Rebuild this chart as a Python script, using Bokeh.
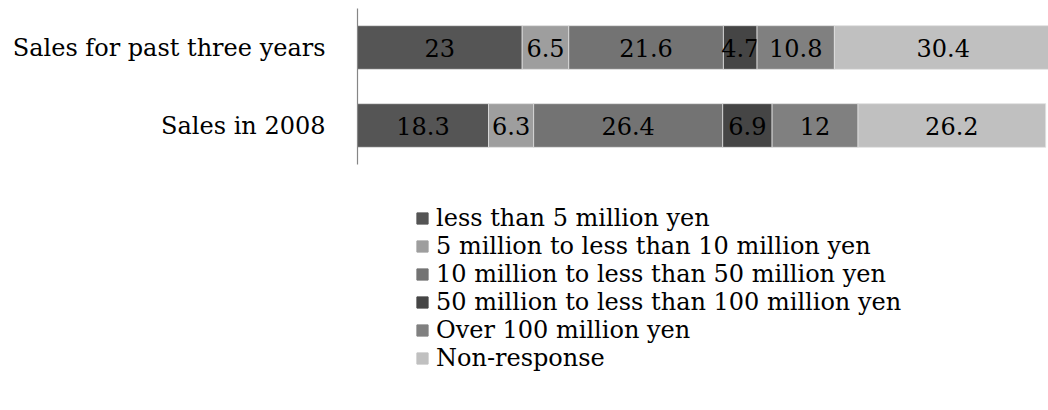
from bokeh.plotting import figure
from bokeh.layouts import column
from bokeh.models import Range1d, FactorRange, Legend, LegendItem, ColumnDataSource
from bokeh.core.properties import value
from bokeh.embed import file_html
from bokeh.resources import INLINE

categories = ["Sales in 2008", "Sales for past three years"]
series_names = [
    "less than 5 million yen",
    "5 million to less than 10 million yen",
    "10 million to less than 50 million yen",
    "50 million to less than 100 million yen",
    "Over 100 million yen",
    "Non-response",
]
less_5m = [18.3, 23.0]
m5_10 = [6.3, 6.5]
m10_50 = [26.4, 21.6]
m50_100 = [6.9, 4.7]
over_100m = [12.0, 10.8]
non_response = [26.2, 30.4]
value_labels = [
    ["18.3", "23"], ["6.3", "6.5"], ["26.4", "21.6"],
    ["6.9", "4.7"], ["12", "10.8"], ["26.2", "30.4"],
]
colors = ["#555555", "#9e9e9e", "#737373", "#454545", "#808080", "#c0c0c0"]

series = [less_5m, m5_10, m10_50, m50_100, over_100m, non_response]
FONT = "DejaVu Serif"
FS = "24px"

p = figure(
    width=1048, height=172,
    y_range=FactorRange(*categories, range_padding=0),
    x_range=Range1d(0, 96.5),
    output_backend="svg", toolbar_location=None,
    min_border_left=357, min_border_right=0, min_border_top=8,
    min_border_bottom=8,
)
p.outline_line_color = None
p.xgrid.visible = False
p.ygrid.visible = False
p.xaxis.visible = False

ax = p.yaxis[0]
ax.axis_line_color = "#868686"
ax.axis_line_width = 1.2
ax.major_tick_line_color = None
ax.minor_tick_line_color = None
ax.major_label_text_font = FONT
ax.major_label_text_font_size = FS
ax.major_label_text_color = "black"
ax.major_label_standoff = 26

left = [0.0, 0.0]
for i, vals in enumerate(series):
    right = [l + v for l, v in zip(left, vals)]
    src = ColumnDataSource(dict(
        y=categories, left=left, right=right,
        xc=[(l + r) / 2 for l, r in zip(left, right)],
        lab=value_labels[i],
    ))
    p.hbar(y="y", left="left", right="right", height=0.56, source=src,
           fill_color=colors[i], line_color="#e0e0e0", line_width=0.8)
    p.text(x="xc", y="y", text="lab", source=src,
           text_font=value(FONT), text_font_size=FS, text_color="black",
           text_align="center", text_baseline="middle")
    left = right

# legend panel (frame aligned with the chart frame by the column layout)
q = figure(
    width=1048, height=238, x_range=Range1d(0, 1), y_range=Range1d(0, 1),
    output_backend="svg", toolbar_location=None,
    min_border_left=357, min_border_right=0, min_border_top=0, min_border_bottom=0,
)
q.outline_line_color = None
q.xgrid.visible = False
q.ygrid.visible = False
q.xaxis.visible = False
q.yaxis.visible = False

# legend proxies: an off-view box each, only used to draw the legend swatches
items = []
for name, c in zip(series_names, colors):
    r = q.quad(left=[-5], right=[-4], bottom=[-5], top=[-4],
               fill_color=c, line_color=c)
    items.append(LegendItem(label=name, renderers=[r]))

legend = Legend(
    items=items, location=(58, 38),
    label_text_font=FONT, label_text_font_size=FS, label_text_color="black",
    glyph_width=14, glyph_height=14, label_standoff=7,
    spacing=0, label_height=28, padding=0, margin=0,
    border_line_color=None, background_fill_alpha=0,
)
q.add_layout(legend, "center")

layout = column(p, q, spacing=0)
open("out.html", "w").write(file_html(layout, INLINE))
